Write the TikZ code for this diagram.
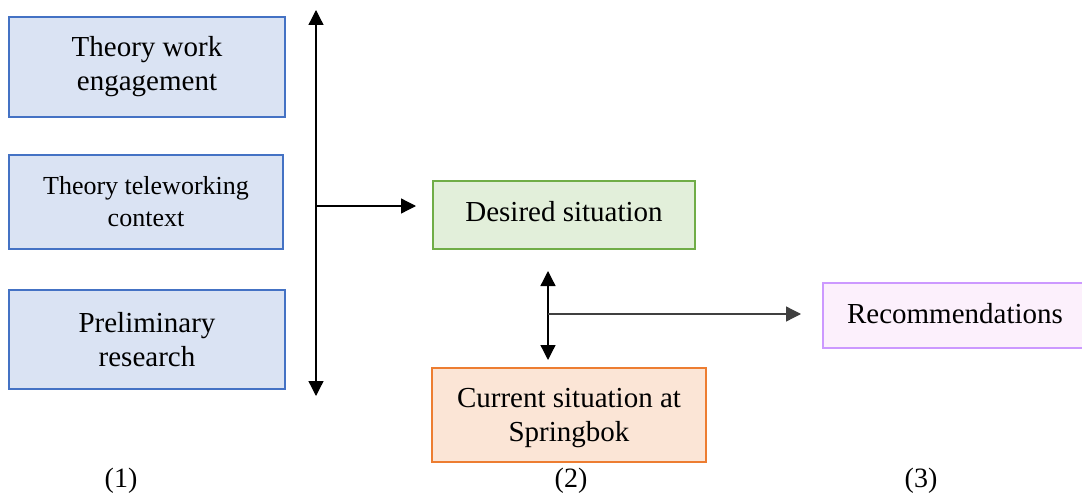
\documentclass[tikz,border=0pt]{standalone}
\usepackage{fontspec}
\setmainfont{Liberation Serif}
\usetikzlibrary{arrows.meta}
\definecolor{bluefill}{HTML}{DAE3F3}
\definecolor{blueline}{HTML}{4472C4}
\definecolor{greenfill}{HTML}{E2EFDA}
\definecolor{greenline}{HTML}{70AD47}
\definecolor{orangefill}{HTML}{FBE5D6}
\definecolor{orangeline}{HTML}{ED7D31}
\definecolor{purplefill}{HTML}{FCF0FC}
\definecolor{purpleline}{HTML}{CC99FF}
\definecolor{greyline}{HTML}{404040}
\tikzset{
  box/.style={draw, line width=2pt, inner sep=0pt, align=center,
    font=\fontsize{29}{34}\selectfont, text=black},
  bluebox/.style={box, fill=bluefill, draw=blueline},
  arr/.style={line width=1.3pt, -{Triangle[length=15pt,width=15pt]}},
  darr/.style={line width=1.3pt, {Triangle[length=15pt,width=15pt]}-{Triangle[length=15pt,width=15pt]}},
  lbl/.style={font=\fontsize{28}{34}\selectfont, inner sep=0pt}
}
\begin{document}
\begin{tikzpicture}[x=1pt,y=-1pt]
\useasboundingbox (0,0) rectangle (1082,495);
\fill[white] (0,0) rectangle (1082,495);
% left boxes
\node[bluebox, minimum width=276pt, minimum height=100pt] (b1) at (147,67) {Theory work\\engagement};
\node[bluebox, minimum width=274pt, minimum height=94pt, font=\fontsize{26}{32}\selectfont] (b2) at (146,201.5) {Theory teleworking\\context};
\node[bluebox, minimum width=276pt, minimum height=99pt] (b3) at (147,339.5) {Preliminary\\research};
% middle boxes
\node[box, fill=greenfill, draw=greenline, minimum width=262pt, minimum height=68pt] (des) at (564,215) {\raisebox{3pt}[\height][\depth]{Desired situation}};
\node[box, fill=orangefill, draw=orangeline, minimum width=274pt, minimum height=94pt] (cur) at (569,415) {\raisebox{-3pt}[\height][\depth]{\begin{tabular}{@{}c@{}}Current situation at\\Springbok\end{tabular}}};
% right box
\node[box, fill=purplefill, draw=purpleline, minimum width=270pt, minimum height=65pt, text width=270pt] (rec) at (958,315.5) {\hspace*{-6pt}\raisebox{2pt}[\height][\depth]{Recommendations}};
% coordinates
\coordinate (vtop) at (316,10);
\coordinate (vbot) at (316,396);
\coordinate (hstart) at (317,206);
\coordinate (hend) at (416,206);
\coordinate (dtop) at (548,271);
\coordinate (dbot) at (548,360);
\coordinate (bstart) at (548,314);
\coordinate (bend) at (801,314);
% arrows
\draw[darr] (vbot) -- (vtop);
\draw[arr] (hstart) -- (hend);
\draw[darr] (dbot) -- (dtop);
\draw[arr, draw=greyline] (bstart) -- (bend);
% labels
\node[lbl] (l1) at (121,481) {(1)};
\node[lbl] (l2) at (571,481) {(2)};
\node[lbl] (l3) at (921,481) {(3)};
\end{tikzpicture}
\end{document}
